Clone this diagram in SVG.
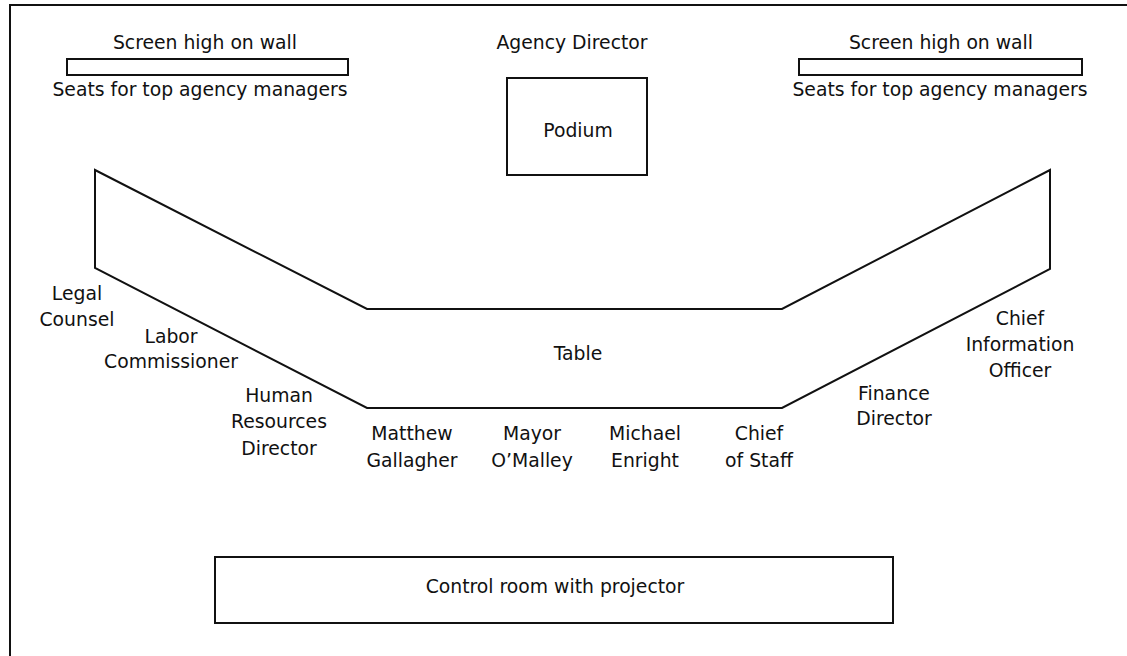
<svg xmlns="http://www.w3.org/2000/svg" width="1127" height="656" viewBox="0 0 1127 656">
<style>
text{font-family:"DejaVu Sans","Open Sans",sans-serif;font-size:18.8px;fill:#111;text-anchor:middle}
.s{fill:#fff;stroke:#111;stroke-width:2}
.b{fill:none;stroke:#111;stroke-width:2}
</style>
<rect width="1127" height="656" fill="#fff"/>
<path class="b" d="M10,656 V5 H1127"/>
<g id="screen-left">
<text x="205" y="49">Screen high on wall</text>
<rect class="s" x="67" y="59" width="281" height="16"/>
<text x="200" y="96">Seats for top agency managers</text>
</g>
<g id="screen-right">
<text x="941" y="49">Screen high on wall</text>
<rect class="s" x="799" y="59" width="283" height="16"/>
<text x="940" y="96">Seats for top agency managers</text>
</g>
<g id="podium">
<text x="572" y="49">Agency Director</text>
<rect class="s" x="507" y="78" width="140" height="97"/>
<text x="578" y="137">Podium</text>
</g>
<g id="table">
<polygon class="s" points="95,170 367,309 782,309 1050,170 1050,269 782,408 367,408 95,268"/>
<text x="578" y="360">Table</text>
</g>
<g id="seats">
<text x="77" y="300">Legal</text>
<text x="77" y="326">Counsel</text>
<text x="171" y="343">Labor</text>
<text x="171" y="368">Commissioner</text>
<text x="279" y="402">Human</text>
<text x="279" y="428">Resources</text>
<text x="279" y="455">Director</text>
<text x="412" y="440">Matthew</text>
<text x="412" y="467">Gallagher</text>
<text x="532" y="440">Mayor</text>
<text x="532" y="467">O’Malley</text>
<text x="645" y="440">Michael</text>
<text x="645" y="467">Enright</text>
<text x="759" y="440">Chief</text>
<text x="759" y="467">of Staff</text>
<text x="894" y="400">Finance</text>
<text x="894" y="425">Director</text>
<text x="1020" y="325">Chief</text>
<text x="1020" y="351">Information</text>
<text x="1020" y="377">Officer</text>
</g>
<g id="control-room">
<rect class="s" x="215" y="557" width="678" height="66"/>
<text x="555" y="593">Control room with projector</text>
</g>
</svg>
